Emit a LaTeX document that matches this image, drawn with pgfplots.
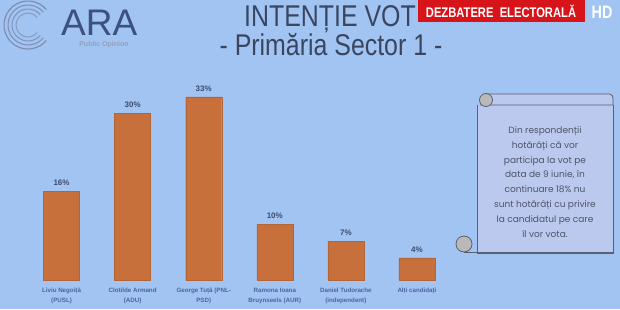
\documentclass[border=0pt]{standalone}
\usepackage{pgfplots}
\pgfplotsset{compat=1.18}
\usepackage{fontspec}
\setmainfont{Liberation Sans}
\newfontfamily\condfont[FakeStretch=0.83]{Liberation Sans}
\newfontfamily\bannerfont[FakeStretch=0.8]{Liberation Sans}
\newfontfamily\boxfont{Poppins}
\definecolor{bg}{HTML}{A2C4F2}
\definecolor{bar}{HTML}{C8703C}
\definecolor{lbl}{HTML}{3E4C6C}
\definecolor{tick}{HTML}{4E64A0}
\definecolor{ttl}{HTML}{3A4660}
\definecolor{logo}{HTML}{3D5180}
\definecolor{boxfill}{HTML}{BCC9EE}
\definecolor{boxline}{HTML}{5A6070}
\definecolor{boxtext}{HTML}{4C5468}
\definecolor{banner}{HTML}{D7141A}
\begin{document}
\begin{tikzpicture}[x=1pt,y=1pt]
\fill[bg] (0,0) rectangle (620,309);
\useasboundingbox (0,0) rectangle (620,309);
% logo
\foreach \r/\a in {24/0.9,20/0.8,16/0.7,12/0.6}{
  \draw[logo!70, line width=1.1pt, opacity=\a] (28,284) ++(40:\r) arc (40:320:\r);
}
\node[anchor=base west, font=\fontsize{37}{37}\selectfont, text=logo, inner sep=0] at (61,274) {ARA};
\node[font=\bfseries\fontsize{7}{8}\selectfont, text=logo!55, inner sep=0] at (104,264) {Public Opinion};
% titles
\node[font=\condfont\fontsize{30}{30}\selectfont, text=ttl, inner sep=0] at (330,290) {INTENȚIE VOT};
\node[font=\condfont\fontsize{30}{30}\selectfont, text=ttl, inner sep=0] at (331,264) {- Primăria Sector 1 -};
% banner
\fill[banner] (418,287) rectangle (585,309);
\node[font=\bannerfont\bfseries\fontsize{14}{14}\selectfont, text=white, inner sep=0] at (501,298) {DEZBATERE\ \ ELECTORALĂ};
\node[font=\bannerfont\bfseries\fontsize{18}{18}\selectfont, text=white, inner sep=0] at (602,297) {HD};
% scroll box
\fill[boxfill] (477,56) rectangle (613,204);
\draw[boxline, line width=0.8pt] (477,56) -- (477,204) (477,56) -- (613,56) -- (613,204);
\fill[boxfill] (480,204) rectangle (613,215);
\draw[boxline, line width=0.8pt] (486,215) -- (610,215) to[out=0,in=90] (613,210) -- (613,204) -- (480,204);
\filldraw[fill=gray!55, draw=boxline, line width=0.8pt] (486,209) circle (6.5);
\filldraw[fill=gray!55, draw=boxline, line width=0.8pt] (464,65) circle (8);
\draw[boxline, line width=0.8pt] (464,57) -- (613,57);
\node[align=center, text=boxtext, font=\boxfont\fontsize{9}{14.8}\selectfont, inner sep=0] at (545,127)
{Din respondenții\\hotărâți că vor\\participa la vot pe\\data de 9 iunie, în\\continuare 18\% nu\\sunt hotărâți cu privire\\la candidatul pe care\\îl vor vota.};
% chart
\begin{axis}[
  at={(26pt,29pt)}, anchor=south west,
  scale only axis, width=426.5pt, height=194.25pt,
  xmin=-0.5, xmax=5.5, ymin=0, ymax=35,
  axis x line=bottom, axis y line=none,
  x axis line style={draw=none},
  ybar, bar width=36pt,
  xtick=data, major tick length=0pt,
  /pgf/number format/assume math mode=true,
  xticklabels={{Liviu Negoiță\\(PUSL)},{Clotilde Armand\\(ADU)},{George Tuță (PNL-\\PSD)},{Ramona Ioana\\Bruynseels (AUR)},{Daniel Tudorache\\(independent)},{Alți candidați}},
  xticklabel style={align=center, text=tick, font=\bfseries\fontsize{6.2}{10}\selectfont, inner sep=0, yshift=-8pt},
  nodes near coords={\pgfmathprintnumber{\pgfplotspointmeta}\%},
  every node near coord/.append style={font=\bfseries\fontsize{8}{8}\selectfont, text=lbl, yshift=2pt},
  clip=false,
]
\addplot[fill=bar, draw=bar!90!black, line width=0.3pt] coordinates {(0,16) (1,30) (2,33) (3,10) (4,7) (5,4)};
\end{axis}
\end{tikzpicture}
\end{document}
